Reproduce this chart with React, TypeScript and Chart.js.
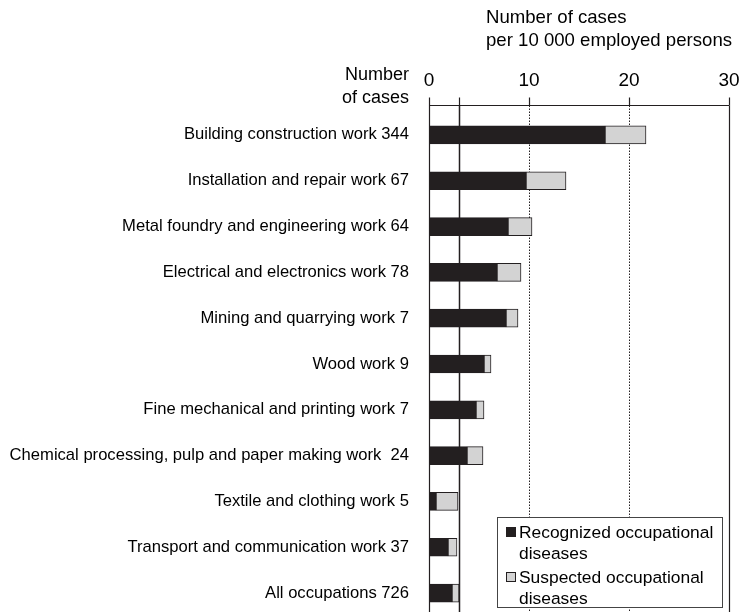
import React, { useEffect, useRef } from "react";
import { Chart, registerables } from "chart.js";

Chart.register(...registerables);

const categories = [
  "Building construction work 344",
  "Installation and repair work 67",
  "Metal foundry and engineering work 64",
  "Electrical and electronics work 78",
  "Mining and quarrying work 7",
  "Wood work 9",
  "Fine mechanical and printing work 7",
  "Chemical processing, pulp and paper making work  24",
  "Textile and clothing work 5",
  "Transport and communication work 37",
  "All occupations 726",
];

const recognized = [17.6, 9.7, 7.9, 6.8, 7.7, 5.5, 4.7, 3.8, 0.7, 1.9, 2.3];
const suspected = [4.1, 4.0, 2.4, 2.4, 1.2, 0.7, 0.8, 1.6, 2.2, 0.9, 0.7];

const xTicks = [0, 10, 20, 30];
const averageLine = 3.0;
const dottedLines = [10, 20];
const solidLines = [0, 30];

const seriesNames = ["Recognized occupational|diseases", "Suspected occupational|diseases"];
const titleLines = ["Number of cases", "per 10 000 employed persons"];
const leftHeader = ["Number", "of cases"];

const BLACK = "#231f20";
const GRAY = "#d3d3d3";
const FONT = "'Liberation Sans', Arial, sans-serif";

const decorPlugin = {
  id: "decor",
  beforeDatasetsDraw(chart: any) {
    const { ctx, chartArea, scales } = chart;
    const x = scales.x;
    const axisY = 105.5;
    const bottom = chart.height;
    ctx.save();
    ctx.strokeStyle = BLACK;
    ctx.lineWidth = 1.2;
    ctx.beginPath();
    ctx.moveTo(x.getPixelForValue(0), axisY);
    ctx.lineTo(x.getPixelForValue(30), axisY);
    ctx.stroke();
    const tickVals = [...xTicks, averageLine];
    tickVals.forEach((v) => {
      const px = Math.round(x.getPixelForValue(v)) + 0.5;
      ctx.beginPath();
      ctx.moveTo(px, axisY - 8);
      ctx.lineTo(px, axisY);
      ctx.stroke();
    });
    [...solidLines, averageLine].forEach((v) => {
      const px = Math.round(x.getPixelForValue(v)) + 0.5;
      ctx.lineWidth = v === averageLine ? 1.5 : 1.2;
      ctx.beginPath();
      ctx.moveTo(px, axisY);
      ctx.lineTo(px, bottom);
      ctx.stroke();
    });
    ctx.lineWidth = 1;
    ctx.setLineDash([1.5, 1.5]);
    dottedLines.forEach((v) => {
      const px = Math.round(x.getPixelForValue(v)) + 0.5;
      ctx.beginPath();
      ctx.moveTo(px, axisY);
      ctx.lineTo(px, bottom);
      ctx.stroke();
    });
    ctx.restore();
  },
  afterDraw(chart: any) {
    const { ctx } = chart;
    ctx.save();
    ctx.fillStyle = "#000";
    ctx.textBaseline = "middle";
    ctx.textAlign = "left";
    ctx.font = `18.6px ${FONT}`;
    ctx.fillText(titleLines[0], 486, 18);
    ctx.fillText(titleLines[1], 486, 41);
    ctx.textAlign = "right";
    ctx.font = `18px ${FONT}`;
    ctx.fillText(leftHeader[0], 409, 75);
    ctx.fillText(leftHeader[1], 409, 98);

    const lx = 497.5, ly = 517.5, lw = 225, lh = 90;
    ctx.fillStyle = "#fff";
    ctx.fillRect(lx, ly, lw, lh);
    ctx.strokeStyle = "#444";
    ctx.lineWidth = 1;
    ctx.strokeRect(lx, ly, lw, lh);
    const colors = [BLACK, GRAY];
    const rowsY = [532, 577];
    ctx.font = `17.4px ${FONT}`;
    seriesNames.forEach((name, i) => {
      const [l1, l2] = name.split("|");
      const cy = rowsY[i];
      ctx.fillStyle = colors[i];
      ctx.fillRect(506, cy - 5, 10, 10);
      ctx.strokeStyle = BLACK;
      ctx.strokeRect(506.5, cy - 4.5, 9, 9);
      ctx.fillStyle = "#000";
      ctx.textAlign = "left";
      ctx.fillText(l1, 519, cy + 1);
      ctx.fillText(l2, 519, cy + 22);
    });
    ctx.restore();
  },
};

export default function App() {
  const ref = useRef<HTMLCanvasElement>(null);
  useEffect(() => {
    if (!ref.current) return;
    const chart = new Chart(ref.current, {
      type: "bar",
      data: {
        labels: categories,
        datasets: [
          {
            label: "Recognized occupational diseases",
            data: recognized,
            backgroundColor: BLACK,
            borderColor: BLACK,
            borderWidth: 1,
            borderSkipped: false,
            barThickness: 18,
          },
          {
            label: "Suspected occupational diseases",
            data: suspected,
            backgroundColor: GRAY,
            borderColor: BLACK,
            borderWidth: 1,
            borderSkipped: false,
            barThickness: 18,
          },
        ],
      },
      options: {
        indexAxis: "y",
        responsive: false,
        animation: false,
        layout: { padding: { left: 0, right: 14, top: 0, bottom: 6 } },
        plugins: { legend: { display: false }, tooltip: { enabled: false } },
        scales: {
          x: {
            position: "top",
            stacked: true,
            min: 0,
            max: 30,
            grid: { display: false },
            border: { display: false },
            ticks: {
              stepSize: 10,
              color: "#000",
              font: { family: FONT, size: 19 },
              padding: 12,
            },
            afterFit(scale: any) {
              scale.height = 112;
              scale.paddingLeft = 0;
              scale.paddingRight = 0;
            },
          },
          y: {
            stacked: true,
            grid: { display: false },
            border: { display: false },
            ticks: {
              color: "#000",
              font: { family: FONT, size: 16.6 },
              padding: 12,
              autoSkip: false,
            },
            afterFit(scale: any) {
              scale.width = 429;
              scale.paddingTop = 0;
              scale.paddingBottom = 0;
            },
          },
        },
      },
      plugins: [decorPlugin],
    });
    return () => chart.destroy();
  }, []);
  return (
    <div style={{ position: "absolute", left: 0, top: 0, width: 743, height: 612, overflow: "hidden", background: "#fff" }}>
      <canvas ref={ref} width={743} height={622} />
    </div>
  );
}
